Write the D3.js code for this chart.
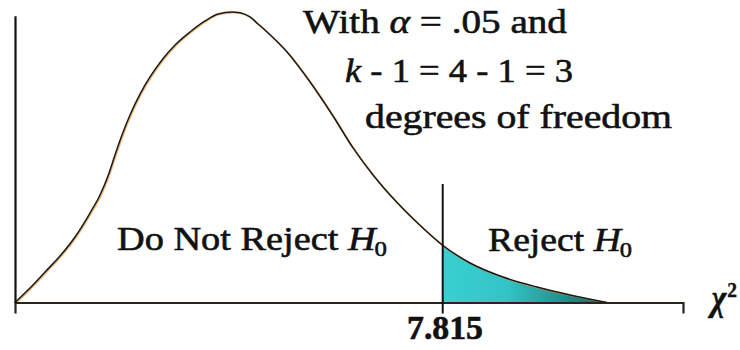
<!DOCTYPE html>
<html>
<head>
<meta charset="utf-8">
<script src="https://cdn.jsdelivr.net/npm/d3@7"></script>
<style>
  html, body { margin: 0; padding: 0; background: #ffffff; }
  svg { display: block; }
</style>
</head>
<body>
<svg id="chart" width="740" height="350"></svg>
<script>
// Chi-square curve, df = 3 (hand-traced density outline)
const chiValues = [0, 0.274, 0.549, 0.823, 1.098, 1.372, 1.555, 1.701, 1.829, 1.957, 2.104, 2.287,
  2.470, 2.689, 2.927, 3.201, 3.476, 3.714, 3.970, 4.116, 4.299, 4.445, 4.610, 4.976, 5.397,
  5.817, 6.183, 6.549, 6.988, 7.354, 7.815, 8.324, 8.927, 9.549, 10.153, 10.830];
const densityValues = [0, 0.0125, 0.0262, 0.0400, 0.0564, 0.0770, 0.0925, 0.1089, 0.1269, 0.1441,
  0.1614, 0.1794, 0.1941, 0.2087, 0.2216, 0.2328, 0.2423, 0.2483, 0.2500, 0.2493, 0.2457, 0.2397,
  0.2328, 0.2156, 0.1898, 0.1605, 0.1330, 0.1097, 0.0860, 0.0688, 0.0495, 0.0340, 0.0219, 0.0133,
  0.0065, 0];

const criticalValue = 7.815;
const xDomain = [0, 12.22];
const yDomain = [0, 0.25];
const yAxisTop = 0.2485;

const noteLines = ["With ", "α", " = .05 and", "k", " - 1 = 4 - 1 = 3", "degrees of freedom"];
const regionLabels = ["Do Not Reject ", "Reject "];
const hypothesis = ["H", "0"];
const axisLabel = ["χ", "2"];

const serif = "'Liberation Serif', 'Times New Roman', serif";
const svg = d3.select("#chart");

const x = d3.scaleLinear().domain(xDomain).range([15, 683]);
const y = d3.scaleLinear().domain(yDomain).range([302.5, 12]);

const points = chiValues.map((v, i) => ({ v, d: densityValues[i] }));

// gradient for the rejection tail
const defs = svg.append("defs");
const grad = defs.append("linearGradient").attr("id", "tailFill")
  .attr("gradientUnits", "userSpaceOnUse")
  .attr("x1", x(criticalValue)).attr("x2", x(10.83)).attr("y1", 0).attr("y2", 0);
grad.append("stop").attr("offset", "0%").attr("stop-color", "#3ad0d0");
grad.append("stop").attr("offset", "40%").attr("stop-color", "#32c4c4");
grad.append("stop").attr("offset", "100%").attr("stop-color", "#1c6262");

const tail = points.filter(p => p.v >= criticalValue);
const area = d3.area()
  .x(p => x(p.v)).y0(y(0)).y1(p => y(p.d))
  .curve(d3.curveMonotoneX);
svg.append("path").datum(tail)
  .attr("d", area)
  .attr("fill", "url(#tailFill)");

const line = d3.line().x(p => x(p.v)).y(p => y(p.d)).curve(d3.curveMonotoneX);

// warm fringe along the curve
svg.append("path").datum(points)
  .attr("d", line)
  .attr("fill", "none")
  .attr("stroke", "#e8a04a")
  .attr("stroke-width", 1.6)
  .attr("opacity", 0.8)
  .attr("transform", "translate(1,0.6)");

svg.append("path").datum(points)
  .attr("d", line)
  .attr("fill", "none")
  .attr("stroke", "#1a1a1a")
  .attr("stroke-width", 1.5);

// axes
const xAxis = svg.append("g")
  .attr("transform", `translate(0,${y(0)})`)
  .call(d3.axisBottom(x).tickValues([criticalValue]).tickSizeOuter(0).tickSize(11)
    .tickFormat(d3.format(".3f")));
xAxis.select(".domain").attr("stroke", "#2b2418").attr("stroke-width", 2.2);
xAxis.selectAll(".tick line")
  .attr("y1", -(y(0) - 184)).attr("y2", 11)
  .attr("stroke", "#111").attr("stroke-width", 2);
xAxis.selectAll(".tick text").remove();

const yAxis = svg.append("g")
  .attr("transform", `translate(${x(0)},0)`)
  .call(d3.axisLeft(d3.scaleLinear().domain([0, yAxisTop]).range([y(0), y(yAxisTop) + 2]))
    .tickValues([]).tickSizeOuter(0));
yAxis.select(".domain").attr("stroke", "#111").attr("stroke-width", 2.2);

// places a text group so its ink spans [x0, x1] at the given baseline
function fit(g, x0, x1, baseline) {
  const b = g.node().getBBox();
  const s = (x1 - x0) / b.width;
  g.attr("transform", `translate(${x0 - b.x * s},${baseline}) scale(${s},1)`);
}

function label(parts, size, weight, x0, x1, baseline, stroke) {
  const g = svg.append("g");
  const t = g.append("text")
    .attr("font-family", serif)
    .attr("font-size", size)
    .attr("font-weight", weight)
    .attr("fill", "#111")
    .attr("stroke", "#111").attr("stroke-width", stroke)
    .attr("stroke-linejoin", "round");
  parts.forEach(p => {
    const ts = t.append("tspan").text(p.t);
    if (p.italic) ts.attr("font-style", "italic");
    if (p.size) ts.attr("font-size", p.size);
    if (p.dy) ts.attr("dy", p.dy);
    if (p.dx) ts.attr("dx", p.dx);
  });
  fit(g, x0, x1, baseline);
  return g;
}

// annotation block
label([{ t: noteLines[0] }, { t: noteLines[1], italic: true }, { t: noteLines[2] }], 34, "normal", 303, 567, 33, 0.6);
label([{ t: noteLines[3], italic: true }, { t: noteLines[4] }], 34, "normal", 345, 573, 82, 0.6);
label([{ t: noteLines[5] }], 34, "normal", 365, 672, 128, 0.6);

// region labels
label([{ t: regionLabels[0] }, { t: hypothesis[0], italic: true }, { t: hypothesis[1], size: 22, dy: 6, dx: -1 }],
  34, "normal", 117, 387, 250, 0.6);
label([{ t: regionLabels[1] }, { t: hypothesis[0], italic: true }, { t: hypothesis[1], size: 22, dy: 6, dx: -1 }],
  34, "normal", 488, 632, 251, 0.6);

// critical value and axis label
label([{ t: d3.format(".3f")(criticalValue) }], 33, "bold", 407, 483, 339, 0.6);
label([{ t: axisLabel[0], italic: true }, { t: axisLabel[1], size: 22, dy: -13, dx: 1 }], 36, "bold", 707, 737, 310, 0.4);
</script>
</body>
</html>
